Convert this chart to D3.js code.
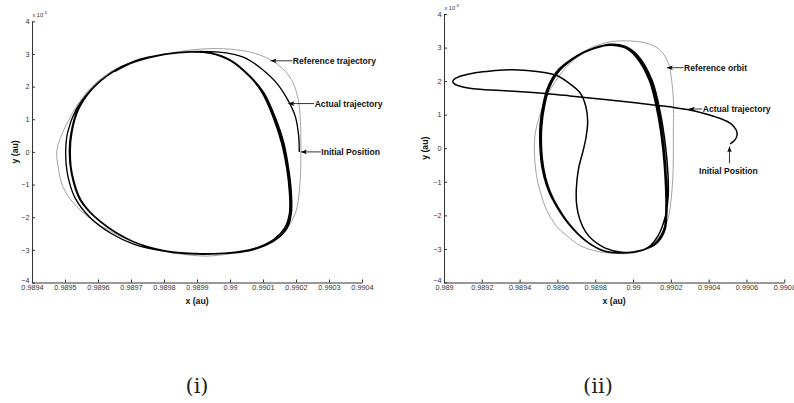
<!DOCTYPE html>
<html><head><meta charset="utf-8">
<script src="https://cdn.jsdelivr.net/npm/d3@7"></script>
<style>body{margin:0;background:#fff}svg{display:block}</style>
</head><body>
<svg id="chart" width="794" height="403"></svg>
<script>
// ---------- data ----------
const yTicks = [-4,-3,-2,-1,0,1,2,3,4];
const leftXTicks = [0.9894,0.9895,0.9896,0.9897,0.9898,0.9899,0.99,0.9901,0.9902,0.9903,0.9904];
const leftXTickLabels = ["0.9894","0.9895","0.9896","0.9897","0.9898","0.9899","0.99","0.9901","0.9902","0.9903","0.9904"];
const rightXTicks = [0.989,0.9892,0.9894,0.9896,0.9898,0.99,0.9902,0.9904,0.9906,0.9908];
const rightXTickLabels = ["0.989","0.9892","0.9894","0.9896","0.9898","0.99","0.9902","0.9904","0.9906","0.9908"];

// y values in units of 1e-3 au
const leftReference = [[0.990215,0],[0.990214,0.78],[0.99021,1.39],[0.990202,1.8],[0.990187,2.2],[0.99016,2.55],[0.990126,2.8],[0.99009,2.97],[0.99004,3.1],[0.98998,3.16],[0.98993,3.16],[0.98988,3.12],[0.98982,3.03],[0.98975,2.88],[0.9897,2.74],[0.98964,2.46],[0.98959,2.08],[0.989545,1.55],[0.98951,0.95],[0.989485,0.4],[0.989475,0],[0.98948,-0.5],[0.989495,-1.1],[0.989535,-1.67],[0.989596,-2.18],[0.98966,-2.55],[0.98973,-2.85],[0.9898,-3.05],[0.98987,-3.15],[0.98993,-3.19],[0.99,-3.12],[0.99006,-3.0],[0.99012,-2.78],[0.99016,-2.5],[0.990185,-2.15],[0.990202,-1.75],[0.99021,-1.2],[0.990214,-0.6],[0.990215,0]];

const leftActual = [[0.99021,0],[0.990208,0.5],[0.990198,1.08],[0.990178,1.54],[0.990142,2.1],[0.9901,2.51],[0.99005,2.86],[0.99,3.01],[0.98994,3.07],[0.98988,3.07],[0.9898,2.99],[0.98971,2.78],[0.98964,2.43],[0.98958,1.92],[0.989533,1.28],[0.989508,0.6],[0.989502,0],[0.989507,-0.65],[0.98953,-1.4],[0.989575,-2.0],[0.98964,-2.5],[0.98971,-2.83],[0.9898,-3.04],[0.98989,-3.12],[0.98996,-3.12],[0.99003,-3.05],[0.99009,-2.9],[0.990135,-2.66],[0.990166,-2.32],[0.99018,-1.88],[0.99018,-1.25],[0.990172,-0.52],[0.990156,0.28],[0.99013,1.08],[0.990098,1.8],[0.990058,2.32],[0.99,2.8],[0.98994,3.02],[0.98988,3.06],
[0.989805,2.99],[0.98971,2.76],[0.989638,2.41],[0.989578,1.9],[0.989538,1.29],[0.989518,0.58],[0.989513,0],[0.989519,-0.65],[0.989545,-1.46],[0.989605,-2.12],[0.989705,-2.74],[0.989805,-3.03],[0.989895,-3.11],[0.989965,-3.11],[0.99003,-3.06],[0.99009,-2.93],[0.990138,-2.69],[0.99017,-2.34],[0.990183,-1.88],[0.990183,-1.27],[0.990175,-0.55],[0.99016,0.27],[0.990133,1.08],[0.9901,1.8],[0.99006,2.3],[0.990002,2.79],[0.98994,3.03],[0.98988,3.07],
[0.98981,3.0],[0.989715,2.78],[0.989642,2.43],[0.989582,1.92],[0.989541,1.3],[0.989521,0.6],[0.989516,0],[0.989522,-0.68],[0.989549,-1.48],[0.98961,-2.15],[0.98971,-2.76],[0.98981,-3.05],[0.9899,-3.13],[0.98997,-3.12],[0.990035,-3.07],[0.990095,-2.92],[0.990142,-2.67],[0.990174,-2.32],[0.990186,-1.87],[0.990186,-1.26],[0.990178,-0.53],[0.990163,0.28],[0.990136,1.09],[0.990103,1.81],[0.990062,2.31],[0.990004,2.8],[0.98994,3.03],[0.989875,3.06],[0.9898,2.98],[0.98971,2.75],[0.98965,2.46]];

const rightReference = [[0.990213,0.45],[0.990213,1.44],[0.990204,2.03],[0.990187,2.53],[0.990142,2.93],[0.990072,3.13],[0.989966,3.2],[0.98986,3.15],[0.989755,2.93],[0.989649,2.43],[0.98959,2.0],[0.989543,1.54],[0.989505,0.95],[0.989483,0.45],[0.989478,-0.05],[0.98949,-0.84],[0.989517,-1.44],[0.989543,-1.84],[0.989596,-2.33],[0.989649,-2.6],[0.98972,-2.9],[0.98981,-3.07],[0.98989,-3.13],[0.989966,-3.14],[0.99003,-3.08],[0.99009,-2.92],[0.99015,-2.55],[0.990185,-2.1],[0.9902,-1.6],[0.99021,-0.9],[0.990213,-0.3],[0.990213,0.45]];

const rightActual = [[0.990513,0.13],[0.990535,0.22],[0.99055,0.38],[0.990545,0.55],[0.99052,0.72],[0.99046,0.89],[0.9904,1.0],[0.990301,1.14],[0.99021,1.22],[0.990107,1.29],[0.99,1.36],[0.98985,1.45],[0.989666,1.56],[0.989561,1.62],[0.98947,1.66],[0.9893,1.72],[0.989155,1.77],[0.98909,1.84],[0.989055,1.92],[0.989046,1.99],[0.98906,2.08],[0.9891,2.17],[0.989173,2.26],[0.989261,2.31],[0.98935,2.34],[0.98944,2.32],[0.98953,2.26],[0.9896,2.16],[0.989666,1.92],[0.98972,1.65],[0.98975,1.25],[0.98976,0.8],[0.989752,0.35],[0.989737,-0.05],[0.989712,-0.6],[0.9897,-1.2],[0.989702,-1.7],[0.989719,-2.13],[0.98975,-2.5],[0.98979,-2.75],[0.98985,-2.97],[0.98993,-3.09],[0.99,-3.1],[0.99008,-2.95],[0.990135,-2.58],[0.990172,-2.0],[0.990186,-1.4],[0.990185,-0.8],[0.990172,0.05],[0.990145,1.04],[0.9901,2.03],[0.990025,2.76],[0.98996,3.03],[0.98988,3.1],
[0.98979,2.98],[0.98971,2.78],[0.98961,2.35],[0.989555,1.85],[0.989528,1.3],[0.989512,0.65],[0.989512,0],[0.989522,-0.55],[0.989545,-1.1],[0.989575,-1.5],[0.98966,-2.25],[0.98976,-2.8],[0.98985,-3.07],[0.98994,-3.12],[0.990054,-3.03],[0.990125,-2.83],[0.990169,-2.43],[0.990178,-1.74],[0.990174,-0.94],[0.99016,0.05],[0.990134,1.04],[0.99009,2.03],[0.990019,2.73],[0.98996,3.0],[0.989878,3.08],
[0.98979,2.96],[0.989712,2.76],[0.989614,2.33],[0.98956,1.84],[0.989533,1.29],[0.989517,0.64],[0.989516,0],[0.989526,-0.56],[0.98955,-1.12],[0.98958,-1.52],[0.989665,-2.27],[0.989765,-2.82],[0.989855,-3.08],[0.989945,-3.12],[0.990055,-3.02],[0.990122,-2.8],[0.990164,-2.4],[0.990174,-1.72],[0.99017,-0.93],[0.990156,0.05],[0.99013,1.03],[0.990086,2.02],[0.990016,2.72],[0.989958,2.99],[0.989876,3.07],
[0.989788,2.97],[0.989708,2.77],[0.989608,2.36],[0.989552,1.86],[0.989524,1.31],[0.989508,0.66],[0.989508,0],[0.989518,-0.56],[0.989542,-1.1],[0.989572,-1.5],[0.989657,-2.24],[0.989757,-2.79],[0.989848,-3.06],[0.989938,-3.11],[0.99005,-3.03],[0.99012,-2.83],[0.990166,-2.44],[0.99018,-1.75],[0.990177,-0.95],[0.990163,0.05],[0.990137,1.04],[0.990093,2.04],[0.990022,2.74],[0.989962,3.01],[0.98988,3.09],[0.98979,2.98],[0.98972,2.8]];

const leftNotes = [
  {text:"Reference trajectory", tip:[0.990123,2.79], from:[0.990189,2.79], dir:"h"},
  {text:"Actual trajectory", tip:[0.990177,1.48], from:[0.990255,1.48], dir:"h"},
  {text:"Initial Position", tip:[0.990215,0.0], from:[0.990275,0.0], dir:"h"}
];
const rightNotes = [
  {text:"Reference orbit", tip:[0.990179,2.4], from:[0.990267,2.4], dir:"h"},
  {text:"Actual trajectory", tip:[0.990295,1.17], from:[0.990366,1.17], dir:"h"},
  {text:"Initial Position", tip:[0.99051,0.05], from:[0.99051,-0.45], dir:"v"}
];
const captions = ["(i)","(ii)"];

// ---------- drawing ----------
const svg = d3.select("#chart");

function panel(cfg){
  const g = svg.append("g");
  const x = d3.scaleLinear().domain(cfg.xDomain).range(cfg.xRange);
  const y = d3.scaleLinear().domain([-4,4]).range(cfg.yRange);
  const font = "'Liberation Sans', Arial, sans-serif";

  const xa = g.append("g").attr("transform",`translate(0,${cfg.yRange[0]})`)
    .call(d3.axisBottom(x).tickValues(cfg.xTicks).tickFormat((d,i)=>cfg.xLabels[i])
      .tickSizeInner(-3).tickSizeOuter(0).tickPadding(2.5));
  const ya = g.append("g").attr("transform",`translate(${cfg.xRange[0]},0)`)
    .call(d3.axisLeft(y).tickValues(yTicks).tickFormat(d3.format("d"))
      .tickSizeInner(-3).tickSizeOuter(0).tickPadding(2.5));
  [xa,ya].forEach(a=>{
    a.selectAll("path.domain").attr("stroke","#333").attr("stroke-width",1);
    a.selectAll(".tick line").attr("stroke","#333");
    a.selectAll("text").attr("font-family",font).attr("font-size","7.3px").attr("fill","#333");
  });
  ya.selectAll("text").attr("dy",d=>d===-4?"0.05em":"0.3em");

  // exponent label
  const ex = g.append("text").attr("x",cfg.xRange[0]+0.5).attr("y",cfg.yRange[1]-4.5)
    .attr("font-family",font).attr("font-size","5.6px").attr("fill","#333");
  ex.append("tspan").text("x 10");
  ex.append("tspan").attr("dy","-2.6").attr("font-size","4.2px").text("-3");

  // axis titles
  g.append("text").attr("x",(cfg.xRange[0]+cfg.xRange[1])/2).attr("y",cfg.yRange[0]+21)
    .attr("text-anchor","middle").attr("font-family",font).attr("font-weight","bold")
    .attr("font-size","8.7px").attr("fill","#111").text("x (au)");
  g.append("text").attr("transform",`translate(${cfg.yLabelX},${y(0)}) rotate(-90)`)
    .attr("text-anchor","middle").attr("dy","0.35em").attr("font-family",font).attr("font-weight","bold")
    .attr("font-size","8.7px").attr("fill","#111").text("y (au)");

  const line = d3.line().x(d=>x(d[0])).y(d=>y(d[1])).curve(d3.curveCatmullRom.alpha(0.5));
  g.append("path").datum(cfg.reference).attr("d",line).attr("fill","none")
    .attr("stroke","#8a8a8a").attr("stroke-width",0.8);
  g.append("path").datum(cfg.actual).attr("d",line).attr("fill","none")
    .attr("stroke","#000").attr("stroke-width",cfg.lw).attr("stroke-linejoin","round");

  cfg.notes.forEach(n=>{
    g.append("line").attr("x1",x(n.from[0])).attr("y1",y(n.from[1]))
      .attr("x2",x(n.tip[0])).attr("y2",y(n.tip[1]))
      .attr("stroke","#000").attr("stroke-width",0.8);
    const ang = Math.atan2(y(n.from[1])-y(n.tip[1]), x(n.from[0])-x(n.tip[0]))*180/Math.PI;
    g.append("path").attr("d","M0,0L6,-2.3L4.5,0L6,2.3Z").attr("fill","#000")
      .attr("transform",`translate(${x(n.tip[0])},${y(n.tip[1])}) rotate(${ang})`);
    const t = g.append("text").attr("font-family",font).attr("font-weight","bold")
      .attr("font-size","8.6px").attr("fill","#111").text(n.text);
    if(n.dir==="h"){
      t.attr("x",x(n.from[0])+0.5).attr("y",y(n.from[1])).attr("dy","0.36em");
    } else {
      t.attr("x",x(n.from[0])-1).attr("y",y(n.from[1])+11).attr("text-anchor","middle");
    }
  });
}

panel({xDomain:[0.9894,0.9904], xRange:[32,362], yRange:[282.5,21.3], xTicks:leftXTicks, xLabels:leftXTickLabels,
  reference:leftReference, actual:leftActual, notes:leftNotes, yLabelX:15, lw:1.35});
panel({xDomain:[0.989,0.9908], xRange:[444,784.3], yRange:[282.5,14], xTicks:rightXTicks, xLabels:rightXTickLabels,
  reference:rightReference, actual:rightActual, notes:rightNotes, yLabelX:425, lw:1.5});

svg.selectAll("text.cap").data(captions).enter().append("text").attr("class","cap")
  .attr("x",(d,i)=>[197,598][i]).attr("y",393).attr("text-anchor","middle")
  .attr("font-family","'DejaVu Serif', 'Liberation Serif', serif").attr("font-size","21px").attr("fill","#222")
  .text(d=>d);
</script>
</body></html>
